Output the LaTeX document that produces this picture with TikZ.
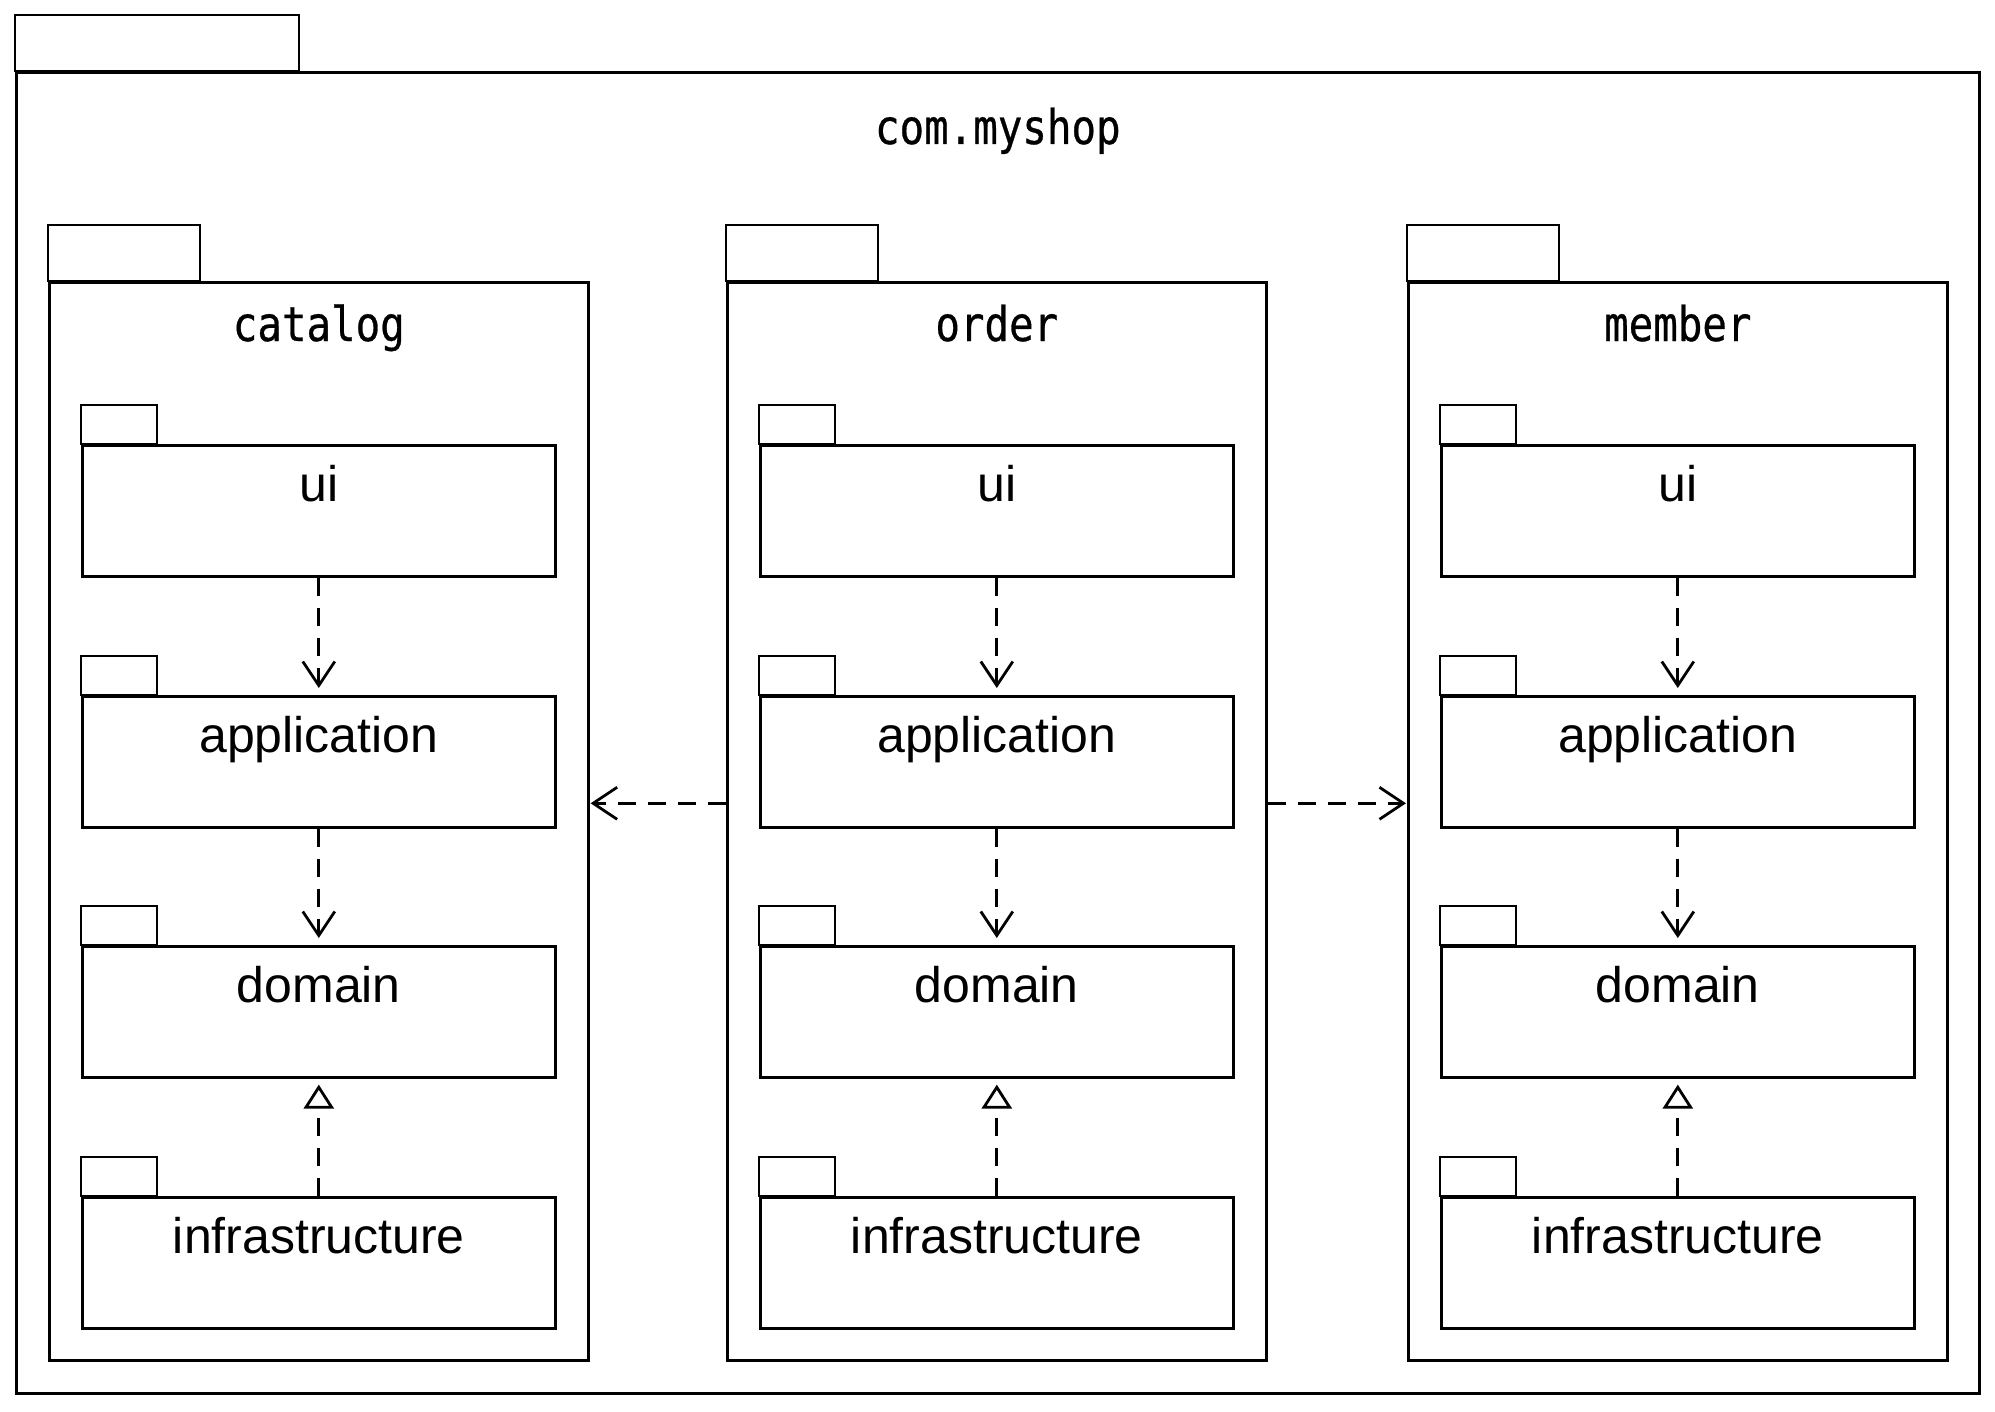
\documentclass[tikz,border=0pt]{standalone}
\usepackage{fontspec}
\setmainfont{Liberation Sans}
\newfontfamily\monofont[FakeStretch=0.85,FakeBold=0.6]{DejaVu Sans Mono}
\usetikzlibrary{arrows.meta,calc}

\tikzset{
  box/.style={draw, line width=1.3pt, anchor=north west, inner sep=0pt},
  tabline/.style={line width=1.3pt},
  pkgname/.style={anchor=base, font=\monofont\fontsize{24}{28}\selectfont},
  layername/.style={anchor=base, font=\fontsize{25}{30}\selectfont},
  dep/.style={line width=1.4pt, dash pattern=on 9pt off 6pt,
    -{Straight Barb[length=12pt,width=16pt]}},
  real/.style={line width=1.4pt, dash pattern=on 9pt off 6pt,
    -{Triangle[open,length=12pt,width=15pt]}}
}

\begin{document}
\begin{tikzpicture}[x=0.5pt,y=-0.5pt]
    \useasboundingbox (0,0) rectangle (1995,1412);
    % Paquete exterior
    \node[box, minimum width=981.5pt, minimum height=660.5pt] (shop) at (15,71) {};
    \draw[tabline] (shop.north west) rectangle ++(284,-56);
    \node[pkgname] (shop-t) at ($(shop.north)+(0,73)$) {com.myshop};
    % Modulos y sus capas
    \foreach \n/\x/\t in {cat/48/catalog, ord/726/order, mem/1407/member} {
        \node[box, minimum width=269.5pt, minimum height=539pt] (\n) at (\x,281) {};
        \draw[tabline] (\n.north west) rectangle ++(152,-56);
        \node[pkgname] (\n-t) at ($(\n.north)+(0,60)$) {\t};
        \foreach \l/\y/\s in {ui/444/ui, app/695/application, dom/945/domain, inf/1196/infrastructure} {
            \node[box, minimum width=236.5pt, minimum height=65.5pt] (\n-\l) at (\x+33,\y) {};
            \draw[tabline] (\n-\l.north west) rectangle ++(76,-39);
            \node[layername] (\n-\l-t) at ($(\n-\l.north)+(0,57)$) {\s};
        }
        % Dependencias entre capas
        \draw[dep, shorten >=3.5pt] (\n-ui.south) -- (\n-app.north);
        \draw[dep, shorten >=3.5pt] (\n-app.south) -- (\n-dom.north);
        \draw[real, shorten >=3pt] (\n-inf.north) -- (\n-dom.south);
    }
    % Dependencias entre modulos
    \draw[dep, shorten >=0.5pt] ([yshift=9pt]ord.west) -- ([yshift=9pt]cat.east);
    \draw[dep, shorten >=0.5pt] ([yshift=9pt]ord.east) -- ([yshift=9pt]mem.west);
\end{tikzpicture}
\end{document}
